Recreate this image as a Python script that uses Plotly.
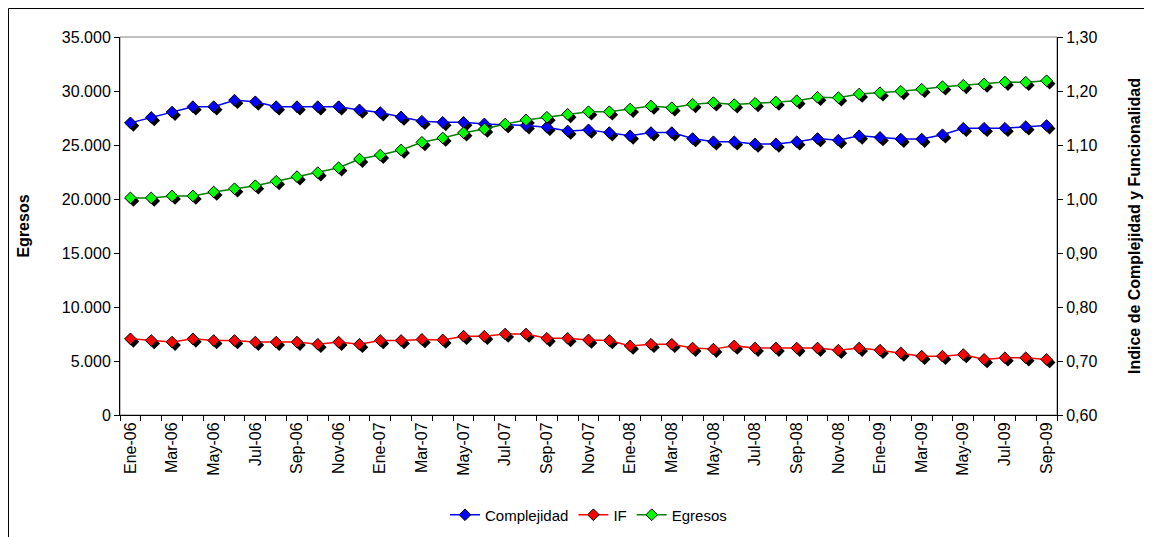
import plotly.graph_objects as go

months = ["Ene-06","Feb-06","Mar-06","Abr-06","May-06","Jun-06","Jul-06","Ago-06","Sep-06","Oct-06","Nov-06","Dic-06",
          "Ene-07","Feb-07","Mar-07","Abr-07","May-07","Jun-07","Jul-07","Ago-07","Sep-07","Oct-07","Nov-07","Dic-07",
          "Ene-08","Feb-08","Mar-08","Abr-08","May-08","Jun-08","Jul-08","Ago-08","Sep-08","Oct-08","Nov-08","Dic-08",
          "Ene-09","Feb-09","Mar-09","Abr-09","May-09","Jun-09","Jul-09","Ago-09","Sep-09"]

complejidad = [1.141,1.151,1.161,1.171,1.171,1.183,1.180,1.171,1.171,1.171,1.171,1.165,
               1.160,1.152,1.144,1.142,1.142,1.139,1.138,1.136,1.133,1.126,1.128,1.123,
               1.117,1.123,1.123,1.112,1.106,1.106,1.102,1.102,1.106,1.112,1.109,1.117,
               1.114,1.111,1.111,1.119,1.131,1.131,1.131,1.134,1.136]

if_vals = [0.741,0.738,0.735,0.741,0.738,0.738,0.735,0.735,0.735,0.731,0.735,0.731,
           0.738,0.738,0.740,0.739,0.746,0.746,0.750,0.750,0.742,0.742,0.739,0.738,
           0.728,0.731,0.731,0.724,0.722,0.728,0.724,0.724,0.724,0.724,0.720,0.724,
           0.720,0.715,0.709,0.709,0.712,0.703,0.706,0.706,0.703]

egresos = [20100,20100,20280,20280,20650,20950,21230,21640,22070,22440,22900,23700,
           24070,24540,25250,25650,26140,26480,26940,27320,27570,27840,28080,28080,
           28330,28610,28450,28770,28920,28740,28860,28980,29100,29420,29380,29720,
           29840,29970,30160,30400,30530,30650,30830,30810,30950]

left_range = [0, 35000]
right_range = [0.6, 1.3]

idx = list(range(len(months)))
FONT = "Liberation Sans, Arial, sans-serif"

# figure is placed at (8, 8) in the page by the default body margin
W, H = 1144, 529
ML, MR, MT, MB = 112, 95, 29, 122
PW, PH = W - ML - MR, H - MT - MB
SH = 3
n = len(months)
xs = SH * n / PW
ls = SH * (left_range[1] - left_range[0]) / PH
rs = SH * (right_range[1] - right_range[0]) / PH

fig = go.Figure()

shadow = dict(symbol="diamond", size=9, color="black", line=dict(width=0))
# drop shadows (drawn first)
fig.add_trace(go.Scatter(x=idx, y=egresos, mode="markers", marker=shadow,
                         xaxis="x", yaxis="y", showlegend=False, hoverinfo="skip"))
fig.add_trace(go.Scatter(x=idx, y=complejidad, mode="markers", marker=shadow,
                         xaxis="x", yaxis="y2", showlegend=False, hoverinfo="skip"))
fig.add_trace(go.Scatter(x=idx, y=if_vals, mode="markers", marker=shadow,
                         xaxis="x", yaxis="y2", showlegend=False, hoverinfo="skip"))

def mk(c):
    return dict(symbol="diamond", size=9, color=c, line=dict(color="black", width=1))

fig.add_trace(go.Scatter(x=idx, y=complejidad, name="Complejidad", mode="lines+markers",
                         line=dict(color="#0000FF", width=1.5), marker=mk("#0000FF"),
                         xaxis="x2", yaxis="y3"))
fig.add_trace(go.Scatter(x=idx, y=if_vals, name="IF", mode="lines+markers",
                         line=dict(color="#FF0000", width=1.5), marker=mk("#FF0000"),
                         xaxis="x2", yaxis="y3"))
fig.add_trace(go.Scatter(x=idx, y=egresos, name="Egresos", mode="lines+markers",
                         line=dict(color="#008000", width=1.5), marker=mk("#00FF00"),
                         xaxis="x2", yaxis="y4"))

tickfont = dict(family=FONT, size=16, color="black")
titlefont = dict(family=FONT, size=16, color="black", weight="bold")

fig.update_layout(
    width=W, height=H,
    margin=dict(l=ML, r=MR, t=MT, b=MB, autoexpand=False),
    paper_bgcolor="white", plot_bgcolor="white",
    separators=",.",
    font=dict(family=FONT, size=15, color="black"),
    xaxis=dict(visible=False, range=[-0.5 - xs, n - 0.5 - xs], domain=[0, 1]),
    yaxis=dict(visible=False, range=[left_range[0] + ls, left_range[1] + ls]),
    yaxis2=dict(visible=False, overlaying="y", range=[right_range[0] + rs, right_range[1] + rs]),
    xaxis2=dict(overlaying="x", anchor="y4", side="bottom", range=[-0.5, n - 0.5],
                tickmode="array", tickvals=idx[::2], ticktext=months[::2], tickangle=-90,
                ticks="", showline=True, linecolor="black", linewidth=1, showgrid=False,
                zeroline=False, tickfont=tickfont,
                minor=dict(tickmode="array", tickvals=[i - 0.5 for i in range(n + 1)],
                           ticks="outside", ticklen=5, tickcolor="black", showgrid=False)),
    yaxis3=dict(overlaying="y", anchor="x2", side="right", range=right_range, dtick=0.1,
                tickformat=".2f", ticks="outside", ticklen=5, tickcolor="black",
                showline=True, linecolor="black", linewidth=1, showgrid=False, zeroline=False,
                tickfont=tickfont,
                title=dict(text="Indice de Complejidad y Funcionalidad", font=titlefont, standoff=32)),
    yaxis4=dict(overlaying="y", anchor="x2", side="left", range=left_range, dtick=5000,
                tickformat=",d", ticks="outside", ticklen=5, tickcolor="black",
                showline=True, linecolor="black", linewidth=1, showgrid=False, zeroline=False,
                tickfont=tickfont,
                title=dict(text="Egresos", font=titlefont, standoff=28)),
    legend=dict(orientation="h", x=0.5, xanchor="center", y=-100 / PH, yanchor="middle",
                font=dict(family=FONT, size=15, color="black"), bgcolor="rgba(0,0,0,0)",
                traceorder="normal"),
    shapes=[
        dict(type="rect", xref="paper", yref="paper", x0=0, x1=1, y0=0, y1=1,
             line=dict(color="#808080", width=1), layer="below"),
        dict(type="rect", xref="paper", yref="paper", x0=(0.5 - ML) / PW, x1=(W - 2 - ML) / PW,
             y0=-(MB + 20) / PH, y1=1 + (MT - 0.5) / PH, line=dict(color="black", width=1),
             layer="below"),
    ],
)

fig.write_html("out.html")
